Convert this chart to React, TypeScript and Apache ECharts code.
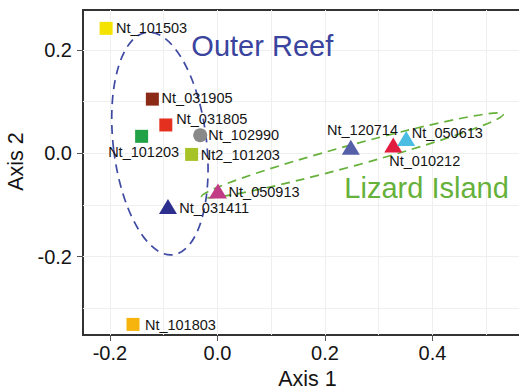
import React, { useEffect, useRef } from 'react';
import * as echarts from 'echarts';

// ---- data ----
const sampleNames = ['Nt_101503', 'Nt_031905', 'Nt_031805', 'Nt_101203', 'Nt_102990', 'Nt2_101203', 'Nt_050913', 'Nt_031411', 'Nt_101803', 'Nt_120714', 'Nt_010212', 'Nt_050613'];
const axis1Values = [-0.207, -0.121, -0.096, -0.141, -0.032, -0.048, 0.001, -0.092, -0.157, 0.248, 0.327, 0.351];
const axis2Values = [0.242, 0.105, 0.055, 0.033, 0.035, -0.002, -0.073, -0.103, -0.331, 0.012, 0.016, 0.029];

const xTickValues = [-0.2, 0, 0.2, 0.4];
const yTickValues = [-0.2, 0, 0.2];
const xGridValues = [-0.2, -0.1, 0, 0.1, 0.2, 0.3, 0.4, 0.5];
const yGridValues = [-0.3, -0.2, -0.1, 0, 0.1, 0.2];

const groupNames = ['Outer Reef', 'Lizard Island'];
const groupLabelX = [-0.0485, 0.236];
const groupLabelY = [0.2076, -0.0677];

// group ellipses (centre, semi-axes in axis units, rotation in degrees)
const ellipseCenterX = [-0.107, 0.251];
const ellipseCenterY = [0.019, -0.004];
const ellipseSemiX = [0.0867, 0.2908];
const ellipseSemiY = [0.2167, 0.0203];
const ellipseAngle = [6.8, 15.3];

// ---- styles ----
const pointShapes = ['rect', 'rect', 'rect', 'rect', 'circle', 'rect', 'triangle', 'triangle', 'rect', 'triangle', 'triangle', 'triangle'];
const pointColors = ['#f4e300', '#8b2b17', '#e4301e', '#21a246', '#898989', '#a6c428', '#c13b86', '#2c2f8e', '#f6b40c', '#5560a8', '#e11d3f', '#4bbde3'];
const labelPlacement = ['right', 'right', 'right', 'bottom', 'right', 'right', 'right', 'right', 'right', 'top', 'bottom', 'right'];
const labelDistance = [3.5, 2.7, 4, 2, 1, 2.7, 1.6, 2.3, 5.4, 2, 1, -3.3];
const labelShiftX = [0, 0, 0, 2, 0, 0, 0, 0, 0, 11.7, 31.5, 0];
const labelShiftY = [0, -0.7, -6, 0, 0, 0.7, 1, 1.6, 0.5, 0, 0, -5];
const groupColors = ['#3a449e', '#66b13a'];
const ellipseColors = ['#3e49a3', '#66b13a'];

const FONT = '"Liberation Sans", Arial, Helvetica, sans-serif';
const INK = '#141414';

function symbolSizeFor(shape: string): number | number[] {
  if (shape === 'circle') return 14;
  if (shape === 'triangle') return [18, 15];
  return 13;
}

export default function App() {
  const ref = useRef<HTMLDivElement>(null);

  useEffect(() => {
    if (!ref.current) return;
    const chart = echarts.init(ref.current, undefined, { renderer: 'svg' });

    const pointData = sampleNames.map((name, i) => ({
      name,
      value: [axis1Values[i], axis2Values[i]],
      symbol: pointShapes[i],
      symbolSize: symbolSizeFor(pointShapes[i]),
      itemStyle: { color: pointColors[i], opacity: 1 },
      label: {
        show: true,
        position: labelPlacement[i],
        distance: labelDistance[i],
        offset: [labelShiftX[i], labelShiftY[i]],
        formatter: name,
        fontSize: 14.5,
        fontFamily: FONT,
        color: INK,
        opacity: 1,
      },
    }));

    const ellipseData = ellipseCenterX.map((cx, i) => [cx, ellipseCenterY[i], ellipseSemiX[i], ellipseSemiY[i], ellipseAngle[i]]);

    const groupData = groupNames.map((name, i) => ({
      name,
      value: [groupLabelX[i], groupLabelY[i]],
      itemStyle: { opacity: 1 },
      label: {
        show: true,
        position: 'right',
        distance: 0,
        formatter: name,
        fontSize: 29,
        fontFamily: FONT,
        color: groupColors[i],
        opacity: 1,
      },
    }));

    const xMin = -0.25, xMax = 0.585;
    const yMin = -0.3515, yMax = 0.2775;

    chart.setOption({
      animation: false,
      backgroundColor: '#ffffff',
      grid: {
        left: 83,
        top: 10,
        right: -13,
        bottom: 57,
        show: true,
        borderColor: '#333333',
        borderWidth: 2,
        containLabel: false,
        outerBoundsMode: 'none',
      },
      xAxis: [
        {
          type: 'value',
          min: xMin,
          max: xMax,
          position: 'bottom',
          axisLine: { show: false, onZero: false },
          axisTick: { show: true, customValues: xTickValues, length: 6, lineStyle: { color: '#555', width: 1 } },
          axisLabel: {
            customValues: xTickValues,
            formatter: (v: number) => v.toFixed(1),
            fontSize: 20,
            fontFamily: FONT,
            color: INK,
            margin: 8,
          },
          splitLine: { show: false },
          name: 'Axis 1',
          nameLocation: 'middle',
          nameGap: 31,
          nameTextStyle: { fontSize: 21.5, fontFamily: FONT, color: INK },
        },
        {
          type: 'value',
          min: xMin,
          max: xMax,
          position: 'top',
          axisLine: { show: false },
          axisTick: { show: false, customValues: xGridValues },
          axisLabel: { show: false, customValues: xGridValues },
          splitLine: { show: true, lineStyle: { color: '#efefef', width: 1 } },
        },
      ],
      yAxis: [
        {
          type: 'value',
          min: yMin,
          max: yMax,
          position: 'left',
          axisLine: { show: false, onZero: false },
          axisTick: { show: true, customValues: yTickValues, length: 6, lineStyle: { color: '#555', width: 1 } },
          axisLabel: {
            customValues: yTickValues,
            formatter: (v: number) => v.toFixed(1),
            fontSize: 20,
            fontFamily: FONT,
            color: INK,
            margin: 11,
          },
          splitLine: { show: false },
          name: 'Axis 2',
          nameLocation: 'middle',
          nameGap: 52,
          nameTextStyle: { fontSize: 21.5, fontFamily: FONT, color: INK, padding: [0, 0, 0, 22] },
        },
        {
          type: 'value',
          min: yMin,
          max: yMax,
          position: 'right',
          axisLine: { show: false },
          axisTick: { show: false, customValues: yGridValues },
          axisLabel: { show: false, customValues: yGridValues },
          splitLine: { show: true, lineStyle: { color: '#efefef', width: 1 } },
        },
      ],
      series: [
        {
          type: 'custom',
          name: 'groups',
          xAxisIndex: 0,
          yAxisIndex: 0,
          z: 1,
          silent: true,
          data: ellipseData,
          renderItem: (params: any, api: any) => {
            const i = params.dataIndex;
            const c = api.coord([api.value(0), api.value(1)]);
            const rx = api.size([api.value(2), 0])[0];
            const ry = api.size([0, api.value(3)])[1];
            return {
              type: 'ellipse',
              x: c[0],
              y: c[1],
              rotation: (api.value(4) * Math.PI) / 180,
              shape: { cx: 0, cy: 0, rx, ry },
              style: { fill: 'none', stroke: ellipseColors[i], lineWidth: 1.7, lineDash: [9, 6] },
            };
          },
        },
        {
          type: 'scatter',
          name: 'group labels',
          xAxisIndex: 0,
          yAxisIndex: 0,
          z: 2,
          symbolSize: 0,
          silent: true,
          itemStyle: { opacity: 1 },
          data: groupData,
        },
        {
          type: 'scatter',
          name: 'samples',
          xAxisIndex: 0,
          yAxisIndex: 0,
          z: 3,
          itemStyle: { opacity: 1 },
          data: pointData,
        },
      ],
    });

    return () => chart.dispose();
  }, []);

  return <div ref={ref} style={{ width: 519, height: 392, position: 'absolute', left: 0, top: 0 }} />;
}
